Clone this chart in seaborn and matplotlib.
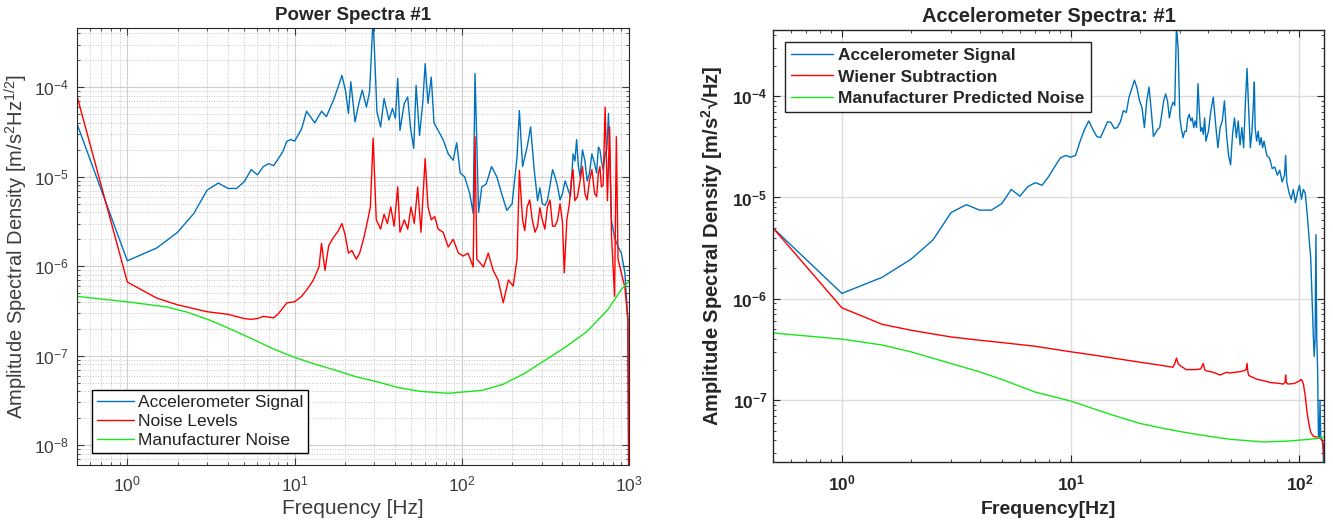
import matplotlib
matplotlib.use("Agg")
import matplotlib.pyplot as plt
import seaborn as sns

# ------------------------------
# Accelerometer spectra, two panels
# ------------------------------

# Left panel: Power Spectra #1
left_sig_f = [0.5, 1, 1.5, 2, 2.5, 3, 3.5, 4, 4.5, 5,
              5.5, 6, 6.5, 7, 7.5, 8, 8.5, 9, 9.5, 10,
              11, 11.8, 13.2, 14.5, 15.5, 17.1, 18.2, 19.2, 20.2, 21,
              21.7, 23, 24.2, 25.4, 26.9, 28.1, 29.5, 31.1, 32.7, 34.3,
              36.7, 38.5, 40.1, 41.4, 42.7, 45.3, 47.5, 49.3, 51.6, 53.3,
              55.9, 58.5, 60.4, 62.8, 65.7, 68.2, 72.2, 77.3, 83, 88.8,
              93.2, 97.9, 104, 111.6, 117, 120, 126, 131.7, 140, 150.7,
              162, 173, 186, 200, 214, 221, 231, 246, 258, 271,
              284, 303, 325, 349, 374, 400, 431, 463, 486, 510,
              545, 580, 623, 656, 684, 720, 754, 786, 820, 860,
              900, 945, 985, 1000]
left_sig_v = [3.9e-5, 1.15e-6, 1.6e-6, 2.4e-6, 3.9e-6, 7.1e-6, 8.5e-6, 7.4e-6, 7.4e-6, 8.8e-6,
              1.2e-5, 1.05e-5, 1.3e-5, 1.4e-5, 1.33e-5, 1.6e-5, 1.9e-5, 2.5e-5, 2.6e-5, 2.5e-5,
              3.4e-5, 5.4e-5, 4.0e-5, 5.4e-5, 4.7e-5, 7.2e-5, 1.0e-4, 1.36e-4, 9.0e-5, 5.1e-5,
              1.15e-4, 4.1e-5, 6.5e-5, 9.3e-5, 6.0e-5, 9.0e-5, 6.0e-4, 5.3e-5, 3.6e-5, 7.5e-5,
              4.3e-5, 5.8e-5, 4.5e-5, 1.26e-4, 3.3e-5, 6.6e-5, 7.8e-5, 3.6e-5, 2.07e-5, 1.05e-4,
              2.9e-5, 6.9e-5, 1.84e-4, 6.6e-5, 1.3e-4, 4.0e-5, 3.3e-5, 2.6e-5, 1.8e-5, 1.53e-5,
              2.4e-5, 1.1e-5, 1.0e-5, 6.5e-6, 3.9e-6, 1.43e-4, 4.0e-6, 7.7e-6, 8.3e-6, 1.3e-5,
              1.0e-5, 6.5e-6, 4.2e-6, 5.0e-6, 1.66e-5, 5.5e-5, 1.3e-5, 2.15e-5, 3.6e-5, 1.2e-5,
              5.4e-6, 5.0e-6, 5.4e-6, 1.2e-5, 7.7e-6, 6.5e-6, 7.3e-6, 1.8e-5, 2.6e-5, 1.0e-5,
              1.5e-5, 1.1e-5, 1.4e-5, 2.15e-5, 1.5e-5, 1.8e-5, 5.1e-5, 3.2e-6, 2.1e-6, 1.65e-6,
              1.4e-6, 8.4e-7, 2.5e-7, 1e-9]
# extra readings inside the dense noise band (300-750 Hz)
left_sig_band_f = [293, 314, 337, 361, 387, 415, 447, 475, 498, 527, 562, 600, 640, 670, 700, 737]
left_sig_band_v = [7.5e-6, 4.8e-6, 8.0e-6, 1.0e-5, 5.5e-6, 9.0e-6, 6.0e-6, 1.5e-5,
                   1.3e-5, 2.0e-5, 9.0e-6, 1.8e-5, 1.1e-5, 2.0e-5, 1.2e-5, 2.0e-5]

left_noise_f = [0.5, 1, 1.5, 2, 3, 4, 5, 5.5, 6, 6.5,
                7, 7.5, 8, 8.5, 9, 10, 11, 11.8, 12.9, 14,
                14.5, 15.2, 16, 17.1, 18.3, 19.2, 20, 21, 22, 23.4,
                24.5, 26, 27.4, 28.4, 29.5, 30.8, 32.7, 34.3, 35.9, 37.6,
                39.4, 41.4, 42.7, 45.3, 47.5, 49.7, 52, 54.5, 57, 60.4,
                62.8, 65.7, 68.9, 72.2, 77.3, 83, 88.8, 95.5, 102, 109,
                117, 120, 123, 135, 144, 154, 165, 177, 190, 203,
                214, 221, 231, 246, 264, 284, 303, 325, 349, 374,
                400, 410, 425, 452, 474, 510, 545, 580, 623, 656,
                684, 720, 743, 766, 786, 820, 840, 860, 900, 945,
                985, 1000]
left_noise_v = [8.0e-5, 6.65e-7, 4.4e-7, 3.7e-7, 3.1e-7, 2.9e-7, 2.6e-7, 2.55e-7, 2.6e-7, 2.75e-7,
                2.7e-7, 2.65e-7, 2.95e-7, 3.4e-7, 3.9e-7, 4.0e-7, 4.6e-7, 5.4e-7, 6.9e-7, 9.8e-7,
                1.8e-6, 9.0e-7, 1.7e-6, 2.1e-6, 2.5e-6, 3.0e-6, 2.3e-6, 1.4e-6, 1.5e-6, 1.2e-6,
                1.4e-6, 2.1e-6, 3.3e-6, 4.6e-6, 2.7e-5, 3.3e-6, 2.6e-6, 3.8e-6, 3.0e-6, 4.6e-6,
                2.8e-6, 7.7e-6, 2.4e-6, 3.3e-6, 2.6e-6, 4.6e-6, 3.0e-6, 7.7e-6, 2.4e-6, 1.6e-5,
                4.6e-6, 3.3e-6, 3.6e-6, 2.6e-6, 2.4e-6, 1.64e-6, 2.0e-6, 1.4e-6, 1.3e-6, 1.4e-6,
                9.8e-7, 2.8e-5, 1.2e-6, 9.8e-7, 1.4e-6, 9.0e-7, 7.0e-7, 3.9e-7, 7.0e-7, 6.0e-7,
                1.2e-6, 1.18e-5, 3.3e-6, 4.6e-6, 3.3e-6, 2.8e-6, 3.3e-6, 4.6e-6, 2.8e-6, 3.3e-6,
                3.1e-6, 8.4e-7, 3.3e-6, 9.1e-6, 5.4e-6, 9.1e-6, 6.5e-6, 9.1e-6, 6.5e-6, 1.1e-5,
                7.7e-6, 6.0e-5, 5.4e-6, 3.6e-5, 2.2e-6, 4.6e-7, 2.8e-5, 1.2e-6, 8.4e-7, 5.8e-7,
                2.5e-7, 1e-9]
left_noise_band_f = [238, 255, 274, 293, 314, 337, 361, 387, 440, 463, 492, 527, 562, 600, 640, 670, 700]
left_noise_band_v = [2.5e-6, 5.5e-6, 2.4e-6, 4.5e-6, 2.6e-6, 5.5e-6, 2.8e-6, 5.0e-6, 5.0e-6,
                     1.2e-5, 6.0e-6, 1.3e-5, 5.5e-6, 1.2e-5, 6.0e-6, 1.3e-5, 8.0e-6]

left_manu_f = [0.5, 1, 1.73, 2.3, 3.1, 4.1, 5.5, 7.4, 9.8, 13.1, 17.5, 23.4, 31.3,
               41.7, 56, 83, 133, 177, 236, 315, 420, 560, 750, 900, 1000]
left_manu_v = [4.6e-7, 4.0e-7, 3.5e-7, 3.05e-7, 2.5e-7, 2.0e-7, 1.56e-7, 1.2e-7, 9.7e-8, 8.1e-8,
               6.9e-8, 5.8e-8, 5.1e-8, 4.4e-8, 4.0e-8, 3.8e-8, 4.1e-8, 4.8e-8, 6.3e-8, 8.9e-8,
               1.26e-7, 1.86e-7, 3.3e-7, 5.5e-7, 6.8e-7]

# Right panel: Accelerometer Spectra: #1
right_sig_f = [0.5, 1, 1.5, 2, 2.5, 3, 3.5, 4, 4.5, 5,
               5.5, 6, 6.5, 7, 7.5, 8, 8.5, 9, 9.5, 10,
               10.5, 11, 11.5, 12, 12.5, 13, 13.5, 14, 14.5, 15,
               15.5, 16, 16.5, 17, 17.5, 18, 18.5, 19, 19.5, 20,
               20.5, 21, 21.5, 22, 22.5, 23, 23.5, 24, 24.5, 25,
               25.5, 26, 26.5, 27, 27.5, 28, 28.5, 29, 29.5, 30,
               30.5, 31, 31.5, 32, 32.5, 33, 33.5, 34, 34.5, 35,
               35.5, 36, 36.5, 37, 37.5, 38, 38.5, 39, 40, 41,
               42, 43, 44, 45, 46, 47, 48, 49, 50, 51,
               52, 53, 54, 55, 56, 57, 58, 59, 60, 61,
               62, 63, 63.5, 64, 65, 66, 67, 68, 69, 70,
               72, 74, 76, 78, 80, 82, 84, 86, 87, 88,
               90, 92, 94, 96, 98, 100, 102, 104, 106, 108,
               110, 112, 114, 115, 116, 117, 118, 119, 120, 121,
               122, 123, 124, 126, 127, 128]
right_sig_v = [5.0e-6, 1.13e-6, 1.63e-6, 2.45e-6, 3.8e-6, 7.1e-6, 8.5e-6, 7.5e-6, 7.5e-6, 8.7e-6,
               1.2e-5, 1.03e-5, 1.28e-5, 1.4e-5, 1.32e-5, 1.6e-5, 2.0e-5, 2.45e-5, 2.6e-5, 2.5e-5,
               2.6e-5, 3.6e-5, 4.7e-5, 5.7e-5, 4.7e-5, 4.0e-5, 3.9e-5, 4.7e-5, 5.6e-5, 5.5e-5,
               4.8e-5, 4.9e-5, 5.6e-5, 7.2e-5, 6.9e-5, 9.8e-5, 1.19e-4, 1.44e-4, 1.2e-4, 9.0e-5,
               7.7e-5, 4.9e-5, 9.0e-5, 1.23e-4, 7.2e-5, 4.0e-5, 4.35e-5, 4.7e-5, 4.9e-5, 6.6e-5,
               9.0e-5, 1.05e-4, 9.0e-5, 6.1e-5, 7.7e-5, 8.7e-5, 8.1e-5, 5.0e-4, 2.9e-4, 6.1e-5,
               4.7e-5, 3.9e-5, 4.5e-5, 4.5e-5, 6.1e-5, 6.6e-5, 5.7e-5, 6.1e-5, 4.9e-5, 5.7e-5,
               4.9e-5, 1.33e-4, 7.2e-5, 4.5e-5, 4.9e-5, 4.2e-5, 6.1e-5, 3.6e-5, 4.5e-5, 7.2e-5,
               9.8e-5, 5.3e-5, 3.1e-5, 4.9e-5, 5.7e-5, 9.0e-5, 4.2e-5, 2.6e-5, 2.1e-5, 4.2e-5,
               6.1e-5, 3.9e-5, 5.7e-5, 3.3e-5, 4.9e-5, 3.1e-5, 8.4e-5, 1.88e-4, 7.2e-5, 3.1e-5,
               4.5e-5, 9.0e-5, 1.38e-4, 4.9e-5, 3.6e-5, 4.5e-5, 3.3e-5, 3.9e-5, 3.1e-5, 3.6e-5,
               2.6e-5, 2.45e-5, 1.93e-5, 2.0e-5, 1.66e-5, 1.86e-5, 1.42e-5, 1.66e-5, 2.6e-5, 1.42e-5,
               1.12e-5, 9.6e-6, 1.2e-5, 8.9e-6, 1.12e-5, 1.32e-5, 9.6e-6, 1.2e-5, 1.1e-5, 7.0e-6,
               4.1e-6, 2.5e-6, 7.5e-7, 4.2e-7, 2.7e-7, 4.0e-7, 4.3e-6, 4.0e-7, 2.1e-7, 4.5e-8,
               4.2e-8, 1.0e-7, 4.2e-8, 4.0e-8, 3.0e-8, 1.5e-8]

right_wiener_f = [0.5, 1, 1.5, 2, 2.5, 3, 4, 5, 7, 10,
                  12, 15, 20, 25, 28, 28.5, 29, 29.5, 30, 32,
                  35, 37, 38, 38.5, 39, 42, 45, 48, 50, 52,
                  55, 57, 58.5, 59, 59.5, 60, 65, 70, 75, 80,
                  85, 86.5, 87, 87.5, 89, 95, 100, 102, 104, 106,
                  108, 110, 112, 115, 120, 125, 127, 128]
right_wiener_v = [5.0e-6, 8.15e-7, 5.6e-7, 4.9e-7, 4.5e-7, 4.2e-7, 3.9e-7, 3.7e-7, 3.4e-7, 3.0e-7,
                  2.83e-7, 2.62e-7, 2.37e-7, 2.2e-7, 2.11e-7, 2.3e-7, 2.6e-7, 2.3e-7, 2.2e-7, 2.0e-7,
                  2.0e-7, 2.03e-7, 2.3e-7, 2.0e-7, 1.95e-7, 1.88e-7, 1.77e-7, 1.88e-7, 1.85e-7, 1.88e-7,
                  1.91e-7, 1.95e-7, 2.0e-7, 2.3e-7, 1.9e-7, 1.75e-7, 1.61e-7, 1.55e-7, 1.49e-7, 1.47e-7,
                  1.44e-7, 1.5e-7, 1.77e-7, 1.5e-7, 1.44e-7, 1.46e-7, 1.55e-7, 1.6e-7, 1.45e-7, 1.1e-7,
                  7.5e-8, 5.8e-8, 4.8e-8, 4.4e-8, 4.3e-8, 4.1e-8, 3.7e-8, 2.7e-8]

right_manu_f = [0.5, 1, 1.5, 2, 3, 4, 5, 7, 10, 15, 20, 25, 30, 40, 50, 70, 90, 110, 128]
right_manu_v = [4.6e-7, 4.0e-7, 3.5e-7, 3.0e-7, 2.3e-7, 1.9e-7, 1.6e-7, 1.2e-7, 9.8e-8, 7.2e-8,
                5.9e-8, 5.3e-8, 4.9e-8, 4.4e-8, 4.1e-8, 3.86e-8, 3.95e-8, 4.1e-8, 4.3e-8]

BLUE = "#0072BD"
RED = "#FF0000"
GREEN = "#19E619"

sns.set_style("white")
plt.rcParams['font.family'] = ['Liberation Sans', 'DejaVu Sans']
plt.rcParams['mathtext.default'] = 'regular'
plt.rcParams['axes.unicode_minus'] = False

fig = plt.figure(figsize=(13.33, 5.29), dpi=100)
ax1 = fig.add_axes([77 / 1333, 64 / 529, 552 / 1333, 437 / 529])
ax2 = fig.add_axes([773 / 1333, 67 / 529, 551 / 1333, 432 / 529])


def draw(ax, f, v, color, label):
    # sort=True puts the extra band readings in frequency order
    sns.lineplot(x=f, y=v, ax=ax, color=color, linewidth=1.0, label=label,
                 sort=True, estimator=None)


def setup_ticks(ax, color):
    ax.tick_params(which='both', direction='in', bottom=True, left=True,
                   top=True, right=True, colors=color, labelsize=12.5)
    ax.tick_params(which='major', length=5, width=0.8)
    ax.tick_params(which='minor', length=2.5, width=0.6)


# --- left panel ---
draw(ax1, left_sig_f + left_sig_band_f, left_sig_v + left_sig_band_v, BLUE, "Accelerometer Signal")
draw(ax1, left_noise_f + left_noise_band_f, left_noise_v + left_noise_band_v, RED, "Noise Levels")
draw(ax1, left_manu_f, left_manu_v, GREEN, "Manufacturer Noise")
ax1.set_xscale('log')
ax1.set_yscale('log')
ax1.set_xlim(0.5, 1000)
ax1.set_ylim(6e-9, 4.6e-4)
ax1.set_axisbelow(True)
ax1.grid(True, which='major', color='#cfcfcf', lw=0.8)
ax1.grid(True, which='minor', color='#c4c4c4', lw=0.7, ls=':')
gray = '#3c3c3c'
setup_ticks(ax1, gray)
ax1.tick_params(axis='x', pad=7)
ax1.tick_params(axis='y', pad=6)
for s in ax1.spines.values():
    s.set_color('#262626')
    s.set_linewidth(0.8)
ax1.set_title("Power Spectra #1", fontsize=13.5, fontweight='bold', pad=6)
ax1.set_xlabel("Frequency [Hz]", fontsize=15, color=gray)
ax1.set_ylabel("Amplitude Spectral Density [m/s$^2$Hz$^{1/2}$]", fontsize=14.5, color=gray)
ax1.xaxis.set_label_coords(0.5, -0.078)
ax1.yaxis.set_label_coords(-0.086, 0.5)
leg1 = ax1.legend(loc='lower left', bbox_to_anchor=(0.027, 0.027), borderaxespad=0,
                  fontsize=12.5, frameon=True, fancybox=False, framealpha=1,
                  edgecolor='black', handlelength=2.1, handletextpad=0.25,
                  labelspacing=0.22, borderpad=0.3)
leg1.get_frame().set_linewidth(1.0)
for t in leg1.get_texts():
    t.set_color('#222222')

# --- right panel ---
draw(ax2, right_sig_f, right_sig_v, BLUE, "Accelerometer Signal")
draw(ax2, right_wiener_f, right_wiener_v, RED, "Wiener Subtraction")
draw(ax2, right_manu_f, right_manu_v, GREEN, "Manufacturer Predicted Noise")
ax2.set_xscale('log')
ax2.set_yscale('log')
ax2.set_xlim(0.5, 128)
ax2.set_ylim(2.45e-8, 4.5e-4)
ax2.set_axisbelow(True)
ax2.grid(True, which='major', color='#dcdcdc', lw=1.0)
ax2.grid(False, which='minor')
setup_ticks(ax2, '#262626')
ax2.tick_params(axis='x', pad=8)
ax2.tick_params(axis='y', pad=4)
for s in ax2.spines.values():
    s.set_color('#262626')
    s.set_linewidth(1.0)
ax2.set_title("Accelerometer Spectra: #1", fontsize=14.5, fontweight='bold', pad=6)
ax2.set_xlabel("Frequency[Hz]", fontsize=14, fontweight='bold')
ax2.set_ylabel("Amplitude Spectral Density [m/s$^2$√Hz]", fontsize=14.5, fontweight='bold')
ax2.xaxis.set_label_coords(0.5, -0.09)
ax2.yaxis.set_label_coords(-0.088, 0.5)
leg2 = ax2.legend(loc='upper left', bbox_to_anchor=(0.022, 0.972), borderaxespad=0,
                  prop={'size': 12.5, 'weight': 'bold'}, frameon=True, fancybox=False,
                  framealpha=1, edgecolor='#222222', handlelength=2.4,
                  handletextpad=0.3, labelspacing=0.35, borderpad=0.35)
leg2.get_frame().set_linewidth(1.0)

fig.canvas.draw()
for lbl in ax2.get_xticklabels() + ax2.get_yticklabels():
    lbl.set_fontweight('bold')

fig.savefig("out.png", dpi=100)
plt.close(fig)
